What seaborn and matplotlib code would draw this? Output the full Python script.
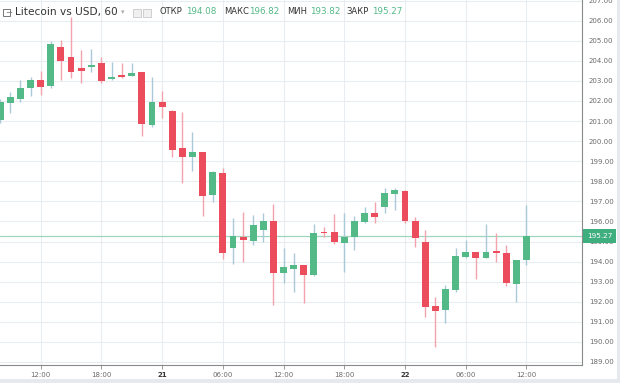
import matplotlib
matplotlib.use("Agg")
import matplotlib.pyplot as plt
import matplotlib.transforms as mtransforms
from matplotlib.patches import Rectangle
import numpy as np
import pandas as pd
import seaborn as sns

sns.set_theme(style="white")
plt.rcParams["font.family"] = ["DejaVu Sans"]

# hourly candles, 20th 08:00 .. 22nd 12:00
opens = [201.05, 201.92, 202.10, 202.65, 203.05, 202.75, 204.67, 204.17, 203.62, 203.70,
         203.88, 203.08, 203.30, 203.25, 203.42, 200.80, 201.95, 201.52, 199.64, 199.19,
         199.44, 197.32, 198.40, 194.66, 195.22, 195.04, 195.57, 196.02, 193.41, 193.64,
         193.81, 193.31, 195.49, 195.46, 194.94, 195.21, 195.97, 196.40, 196.73, 197.36,
         197.53, 196.00, 195.00, 191.80, 191.59, 192.58, 194.24, 194.46, 194.19, 194.53,
         194.44, 192.88, 194.08]
highs = [202.10, 202.45, 203.05, 203.20, 203.50, 205.00, 205.05, 206.20, 204.55, 204.60,
         204.20, 203.96, 203.90, 203.90, 203.45, 203.20, 202.50, 201.55, 201.47, 200.47,
         199.45, 198.50, 198.65, 196.15, 196.48, 196.32, 196.40, 196.87, 194.66, 194.41,
         193.85, 195.85, 195.70, 196.37, 196.43, 196.25, 196.73, 196.98, 197.65, 197.65,
         197.55, 196.24, 195.55, 192.25, 192.83, 194.66, 195.07, 194.50, 195.87, 195.44,
         194.82, 194.10, 196.82]
lows = [200.90, 201.40, 201.96, 202.25, 202.30, 202.63, 203.05, 203.13, 202.90, 203.46,
        202.88, 203.05, 203.15, 203.22, 200.25, 200.70, 201.14, 199.22, 197.93, 198.53,
        196.27, 196.98, 194.15, 193.90, 193.99, 194.82, 195.00, 191.84, 192.92, 192.50,
        191.92, 193.30, 195.24, 194.90, 193.49, 194.58, 195.90, 195.90, 196.40, 196.57,
        195.90, 194.71, 191.22, 189.76, 190.92, 192.50, 194.20, 193.13, 194.16, 193.99,
        192.78, 192.00, 193.82]
closes = [201.95, 202.18, 202.66, 203.05, 202.70, 204.82, 204.00, 203.46, 203.50, 203.78,
          203.00, 203.18, 203.18, 203.37, 200.85, 201.93, 201.68, 199.56, 199.22, 199.44,
          197.28, 198.45, 194.41, 195.30, 195.07, 195.80, 196.02, 193.44, 193.71, 193.84,
          193.31, 195.41, 195.40, 195.00, 195.24, 196.00, 196.43, 196.22, 197.40, 197.56,
          196.00, 195.16, 191.72, 191.55, 192.63, 194.29, 194.46, 194.19, 194.49, 194.44,
          192.94, 194.07, 195.27]

x_tick_hours = [4, 10, 16, 22, 28, 34, 40, 46, 52]
x_tick_labels = ["12:00", "18:00", "21", "06:00", "12:00", "18:00", "22", "06:00", "12:00"]
y_ticks = list(range(189, 208))
last_price = 195.27
header_values = [("ОТКР", "194.08"), ("МАКС", "196.82"), ("МИН", "193.82"), ("ЗАКР", "195.27")]

UP = "#53b987"
DOWN = "#eb4d5c"
UP_WICK = "#a9c8d8"
DOWN_WICK = "#f3a3ad"

df = pd.DataFrame({"open": opens, "high": highs, "low": lows, "close": closes})
df["hour"] = np.arange(len(df))
df["up"] = df["close"] >= df["open"]

W, H = 620, 383
fig = plt.figure(figsize=(W / 100, H / 100), dpi=100)
fig.patch.set_facecolor("white")
ax = fig.add_axes([0, 18 / H, 582 / W, 365 / H])
ax.set_facecolor("white")

# grid
for v in y_ticks:
    ax.axhline(v, color="#e9edf1", lw=0.8, zorder=0)
for h in x_tick_hours:
    ax.axvline(h, color="#e9edf1", lw=0.8, zorder=0)

# wicks
for up, grp in df.groupby("up"):
    ax.vlines(grp["hour"], grp["low"], grp["high"], color=UP_WICK if up else DOWN_WICK,
              lw=1, zorder=2)

# bodies
body_low = np.minimum(df["open"], df["close"])
body_h = np.maximum((df["close"] - df["open"]).abs(), 0.08)
ax.bar(df["hour"], body_h, bottom=body_low, width=0.68,
       color=np.where(df["up"], UP, DOWN), linewidth=0, zorder=3)

ax.axhline(last_price, color="#9fd6bd", lw=0.9, zorder=1)

ax.set_xlim(-0.02, 57.49)
ax.set_ylim(188.85, 207.03)

ax.yaxis.tick_right()
ax.set_yticks(y_ticks)
ax.set_yticklabels([f"{v:.2f}" for v in y_ticks])
ax.set_xticks(x_tick_hours)
ax.set_xticklabels(x_tick_labels)
ax.tick_params(axis="y", right=True, length=3, width=0.6, color="#8a8a8a", pad=2,
               labelsize=5, labelcolor="#6b6b6b")
ax.tick_params(axis="x", bottom=True, length=3, width=0.6, color="#8a8a8a", pad=2,
               labelsize=5, labelcolor="#6b6b6b")
for lbl in ax.get_xticklabels():
    if ":" not in lbl.get_text():
        lbl.set_fontweight("bold")
        lbl.set_color("#333333")

sns.despine(ax=ax, left=True, top=True, right=False, bottom=False)
for side in ("right", "bottom"):
    ax.spines[side].set_color("#8a8a8a")
    ax.spines[side].set_linewidth(0.8)

trans = mtransforms.blended_transform_factory(ax.transAxes, ax.transData)
ax.text(1.008, last_price, "195.27", transform=trans, ha="left", va="center",
        fontsize=5.2, color="white", zorder=10, clip_on=False,
        bbox=dict(boxstyle="square,pad=0.55", fc="#3fae7f", ec="none"))


def fx(px):
    return px / W


def fy(py):
    return 1 - py / H


# header
fig.patches.append(Rectangle((fx(3), fy(16)), 7 / W, 7 / H, transform=fig.transFigure,
                             fill=False, ec="#777777", lw=0.7))
fig.text(fx(5), fy(12.3), "−", fontsize=6, color="#777777", va="center")
fig.text(fx(15), fy(12), "Litecoin vs USD, 60", fontsize=7.6, color="#333333", va="center")
fig.text(fx(121), fy(12), "▾", fontsize=5, color="#aaaaaa", va="center")
for bx in (133, 143):
    fig.patches.append(Rectangle((fx(bx), fy(16.5)), 8 / W, 8 / H, transform=fig.transFigure,
                                 fill=True, fc="#f0f0f0", ec="#c8c8c8", lw=0.6))
label_x = [159, 224, 287, 346]
value_x = [186, 249, 310, 372]
for (lab, val), lx, vx in zip(header_values, label_x, value_x):
    fig.text(fx(lx), fy(12), lab, fontsize=6, color="#333333", va="center")
    fig.text(fx(vx), fy(12), val, fontsize=6.3, color=UP, va="center")

# screenshot frame
fig.patches.append(Rectangle((fx(617), 0), 3 / W, 1, transform=fig.transFigure,
                             fc="#e6e9ee", ec="none"))
fig.patches.append(Rectangle((0, 0), 1, 4 / H, transform=fig.transFigure,
                             fc="#e6e9ee", ec="none"))

fig.savefig("out.png", dpi=100)
plt.close(fig)
